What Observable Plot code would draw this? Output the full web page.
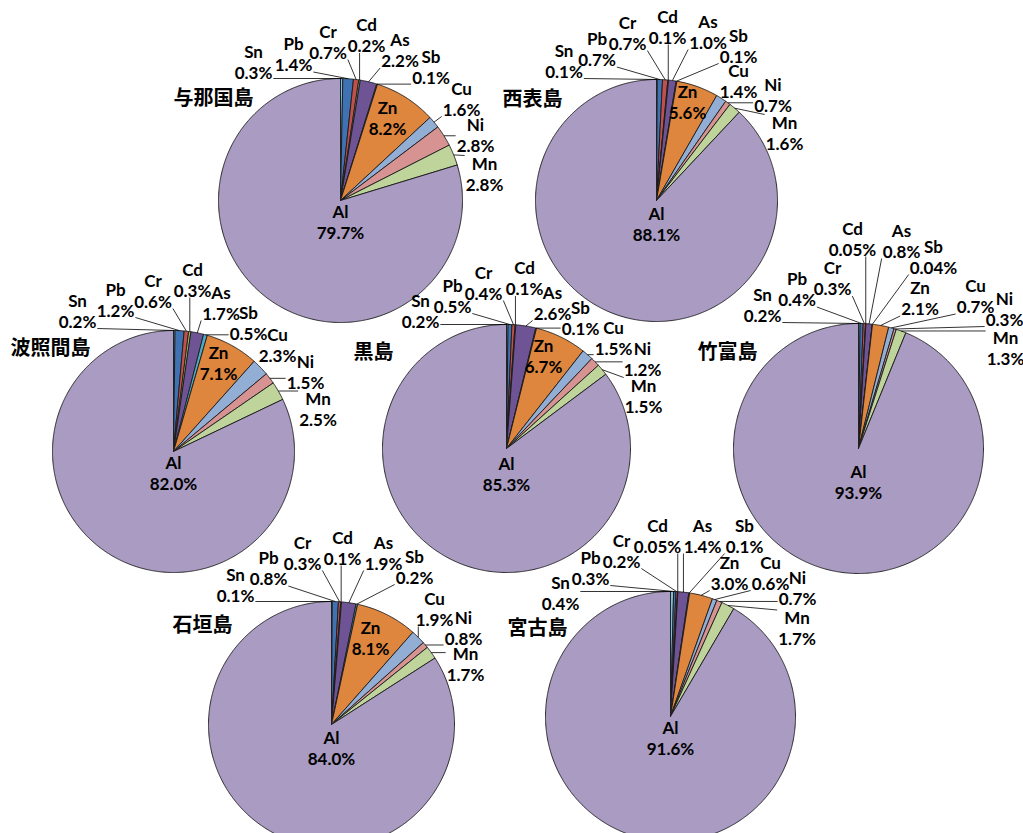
<!DOCTYPE html>
<html><head><meta charset="utf-8">
<script src="https://cdn.jsdelivr.net/npm/d3@7"></script>
<script src="https://cdn.jsdelivr.net/npm/@observablehq/plot@0.6"></script>
<style>body{margin:0;background:#fff;} #chart svg{display:block;}</style>
</head><body><div id="chart"></div>
<script>
// ---- data ----
const elements = ["Sn","Pb","Cr","Cd","As","Sb","Zn","Cu","Ni","Mn","Al"];
const islands = ["与那国島","西表島","波照間島","黒島","竹富島","石垣島","宮古島"];
const yonaguni  = [0.3,1.4,0.7,0.2,2.2,0.1,8.2,1.6,2.8,2.8,79.7];
const iriomote  = [0.1,0.7,0.7,0.1,1.0,0.1,5.6,1.4,0.7,1.6,88.1];
const hateruma  = [0.2,1.2,0.6,0.3,1.7,0.5,7.1,2.3,1.5,2.5,82.0];
const kuroshima = [0.2,0.5,0.4,0.1,2.6,0.1,6.7,1.5,1.2,1.5,85.3];
const taketomi  = [0.2,0.4,0.3,0.05,0.8,0.04,2.1,0.7,0.3,1.3,93.9];
const ishigaki  = [0.1,0.8,0.3,0.1,1.9,0.2,8.1,1.9,0.8,1.7,84.0];
const miyako    = [0.4,0.3,0.2,0.05,1.4,0.1,3.0,0.6,0.7,1.7,91.6];
const seriesValues = [yonaguni, iriomote, hateruma, kuroshima, taketomi, ishigaki, miyako];

// ---- style / layout ----
const colors = ["#7EBFD3","#3F72B2","#C0504D","#9BBB59","#6E5494","#4BACC6","#DE853E","#93AED5","#D69392","#BFD49A","#A99BC1"];
const pieLayout = [
  {cx:340, cy:200, r:122, title:[213,98],
   labels:[[253,61.5],[293,53.5],[327.5,41],[366,34.5],[399.5,49.5],[430.5,66],[387,117],[461,98],[475,134.5],[484,173],[340,221]]},
  {cx:656, cy:200, r:121, title:[532,99],
   labels:[[563.5,60],[596.5,48.5],[627,32],[667,26],[707.5,31],[738,45],[687,101.5],[738,80],[772.5,94.5],[784,132],[656,223]]},
  {cx:173, cy:451, r:121, title:[50,348],
   labels:[[77,310],[115,299],[152.5,290],[192,279],[220.5,302],[248,322],[218,362.5],[277,344.5],[305,371.5],[317.5,408.5],[173,472.5]]},
  {cx:506, cy:448, r:124, title:[373,352],
   labels:[[420,310.5],[452,295],[483,282],[524,277.5],[552,302],[580,317.5],[543,355],[613,337.5],[642,358.5],[643,395],[506,473]]},
  {cx:858, cy:448, r:125, title:[727,352],
   labels:[[762,304],[796.5,288.5],[832,277.5],[852,238],[901,240],[933,256],[919.5,297.5],[975,295.5],[1004,308],[1005,347.5],[858,481]]},
  {cx:331, cy:724, r:123, title:[202,625],
   labels:[[235,584],[268,567.5],[302,552],[342,547],[383,552],[414,566],[370,637],[434,608],[463,627],[465,663],[331,747]]},
  {cx:670, cy:716, r:125, title:[537,628],
   labels:[[560,592],[590,567],[621,550],[657,535],[702,535],[744,535],[729,572],[770,572],[797,587],[796.5,627.5],[670,737.5]]}
];
const labelFont = {size:17, family:"Lato", weight:"bold", lineHeight:1.25};

const ctx = document.createElement("canvas").getContext("2d");
ctx.font = `bold ${labelFont.size}px Lato`;
const fmt = v => (v < 0.1 ? v.toFixed(2) : v.toFixed(1)) + "%";

const slicePts = [], labelRows = [], leaderRows = [], titleRows = [];
islands.forEach((name, i) => {
  const vals = seriesValues[i], L = pieLayout[i];
  const total = d3.sum(vals);
  titleRows.push({x: L.title[0], y: L.title[1], text: name});
  let a0 = 0;
  vals.forEach((v, j) => {
    const a1 = a0 + v / total * 2 * Math.PI;
    const id = name + "-" + elements[j];
    const color = colors[j];
    slicePts.push({id, color, x: L.cx, y: L.cy});
    const n = Math.max(2, Math.ceil((a1 - a0) / (Math.PI / 360)));
    for (let k = 0; k <= n; k++) {
      const a = a0 + (a1 - a0) * k / n;
      slicePts.push({id, color, x: L.cx + L.r * Math.sin(a), y: L.cy - L.r * Math.cos(a)});
    }
    slicePts.push({id, color, x: L.cx, y: L.cy});
    // label
    const [lx, ly] = L.labels[j];
    const txt = elements[j] + "\n" + fmt(v);
    labelRows.push({x: lx, y: ly, text: txt});
    // leader line from slice edge to the nearest edge of the label block
    const am = (a0 + a1) / 2;
    const px = L.cx + L.r * Math.sin(am), py = L.cy - L.r * Math.cos(am);
    const outside = Math.hypot(lx - L.cx, ly - L.cy) > L.r * 0.92;
    if (outside) {
      const hw = Math.max(ctx.measureText(elements[j]).width, ctx.measureText(fmt(v)).width) / 2 + 1;
      const hh = 18;
      const ax = Math.max(lx - hw, Math.min(lx + hw, px));
      const ay = Math.max(ly - hh, Math.min(ly + hh, py));
      if (Math.hypot(ax - px, ay - py) > 5) leaderRows.push({x1: px, y1: py, x2: ax, y2: ay});
    }
    a0 = a1;
  });
});

const chart = Plot.plot({
  width: 1023, height: 833,
  margin: 0,
  x: {domain: [0, 1023], range: [0, 1023], axis: null},
  y: {domain: [0, 833], range: [0, 833], axis: null},
  color: {type: "identity"},
  marks: [
    Plot.line(slicePts, {x: "x", y: "y", z: "id", fill: "color", stroke: "#1a1a1a", strokeWidth: 0.9, strokeLinejoin: "round", curve: "linear"}),
    Plot.link(leaderRows, {x1: "x1", y1: "y1", x2: "x2", y2: "y2", stroke: "#000", strokeWidth: 0.8}),
    Plot.text(labelRows, {x: "x", y: "y", text: "text", fontSize: labelFont.size, fontFamily: labelFont.family, fontWeight: labelFont.weight, lineHeight: labelFont.lineHeight, fill: "#000"}),
    Plot.text(titleRows, {x: "x", y: "y", text: "text", fontSize: 20, fontFamily: "Noto Sans CJK JP", fontWeight: "bold", fill: "#000"})
  ]
});
document.getElementById("chart").appendChild(chart);
</script>
</body></html>
